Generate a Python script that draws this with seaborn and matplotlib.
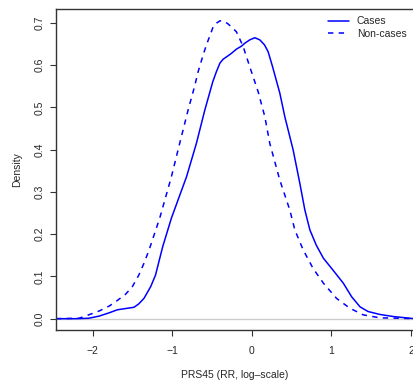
import numpy as np
import pandas as pd
import matplotlib
matplotlib.use("Agg")
import matplotlib.pyplot as plt
import seaborn as sns

# density curves (x = PRS45, log RR)
cases_x = [-2.46, -2.21, -2.05, -1.92, -1.79, -1.69, -1.585, -1.48, -1.42, -1.355,
           -1.27, -1.21, -1.12, -1.01, -0.82, -0.696, -0.59, -0.49, -0.444, -0.40,
           -0.361, -0.30, -0.256, -0.193, -0.13, -0.088, -0.025, 0.038, 0.10, 0.16,
           0.205, 0.26, 0.352, 0.415, 0.52, 0.604, 0.667, 0.73, 0.81, 0.90,
           1.02, 1.15, 1.254, 1.36, 1.46, 1.61, 1.78, 1.99, 2.04]
cases_y = [0.0, 0.0, 0.001, 0.006, 0.014, 0.021, 0.024, 0.027, 0.035, 0.048,
           0.076, 0.103, 0.170, 0.238, 0.336, 0.415, 0.494, 0.561, 0.585, 0.605,
           0.614, 0.622, 0.628, 0.638, 0.645, 0.652, 0.660, 0.665, 0.660, 0.648,
           0.632, 0.597, 0.534, 0.478, 0.399, 0.320, 0.257, 0.210, 0.174, 0.143,
           0.115, 0.084, 0.052, 0.028, 0.017, 0.010, 0.005, 0.001, 0.0]

noncases_x = [-2.46, -2.17, -2.05, -1.92, -1.79, -1.69, -1.585, -1.50, -1.42, -1.355,
              -1.29, -1.157, -1.01, -0.906, -0.80, -0.72, -0.675, -0.61, -0.57, -0.53,
              -0.487, -0.44, -0.40, -0.35, -0.30, -0.235, -0.193, -0.11, -0.025, 0.08,
              0.164, 0.226, 0.352, 0.478, 0.541, 0.645, 0.77, 0.90, 1.065, 1.23,
              1.40, 1.61, 1.85, 2.04]
noncases_y = [0.0, 0.001, 0.009, 0.018, 0.030, 0.043, 0.058, 0.076, 0.103, 0.131,
              0.163, 0.238, 0.336, 0.415, 0.494, 0.549, 0.584, 0.625, 0.648, 0.668,
              0.690, 0.700, 0.705, 0.704, 0.698, 0.687, 0.679, 0.645, 0.596, 0.537,
              0.478, 0.415, 0.328, 0.257, 0.210, 0.163, 0.119, 0.084, 0.048, 0.025,
              0.009, 0.002, 0.001, 0.0]

x_ticks = [-2, -1, 0, 1, 2]
y_ticks = [0.0, 0.1, 0.2, 0.3, 0.4, 0.5, 0.6, 0.7]

sns.set_style("white")
plt.rcParams['font.family'] = ['Liberation Sans', 'DejaVu Sans']
plt.rcParams['font.size'] = 7.5

fig = plt.figure(figsize=(4.14, 3.83), dpi=100)
ax = fig.add_axes([56 / 414, 1 - 330 / 383, 1 - 56 / 414, (330 - 9) / 383])

ax.axhline(0, color="#cccccc", lw=1.0, zorder=1)

df_c = pd.DataFrame({"x": cases_x, "y": cases_y})
df_n = pd.DataFrame({"x": noncases_x, "y": noncases_y})
sns.lineplot(data=df_c, x="x", y="y", ax=ax, color="#0000ff", lw=1.1,
             sort=False, label="Cases")
sns.lineplot(data=df_n, x="x", y="y", ax=ax, color="#0000ff", lw=1.1,
             sort=False, label="Non-cases")
ax.lines[-1].set_dashes((3.5, 3.5))
for ln in ax.lines[1:]:
    ln.set_solid_joinstyle("round")
    ln.set_dash_joinstyle("round")

ax.set_xlim(-2.46, 2.038)
ax.set_ylim(-0.0268, 0.733)
ax.set_xticks(x_ticks)
ax.set_xticklabels([str(t).replace("-", "\u2212") for t in x_ticks])
ax.set_yticks(y_ticks)
ax.set_yticklabels([f"{t:.1f}" for t in y_ticks], rotation=90, va="center")
ax.tick_params(axis="both", length=4.5, width=0.8, color="#333333", direction="out",
               bottom=True, left=True)
ax.tick_params(axis="x", pad=7)
ax.tick_params(axis="y", pad=4)
ax.set_xlabel("PRS45 (RR, log\u2013scale)", labelpad=10)
ax.set_ylabel("Density", labelpad=9)

for side in ["left", "bottom", "top"]:
    ax.spines[side].set_color("#333333")
    ax.spines[side].set_linewidth(1.0)
ax.spines["right"].set_visible(False)

leg = ax.legend(loc="upper right", frameon=False, handlelength=2.0,
                labelspacing=0.25, borderaxespad=0.3, fontsize=7.5)
leg.get_lines()[1].set_dashes((3.5, 3.5))

plt.savefig("out.png", dpi=100)
plt.close()
